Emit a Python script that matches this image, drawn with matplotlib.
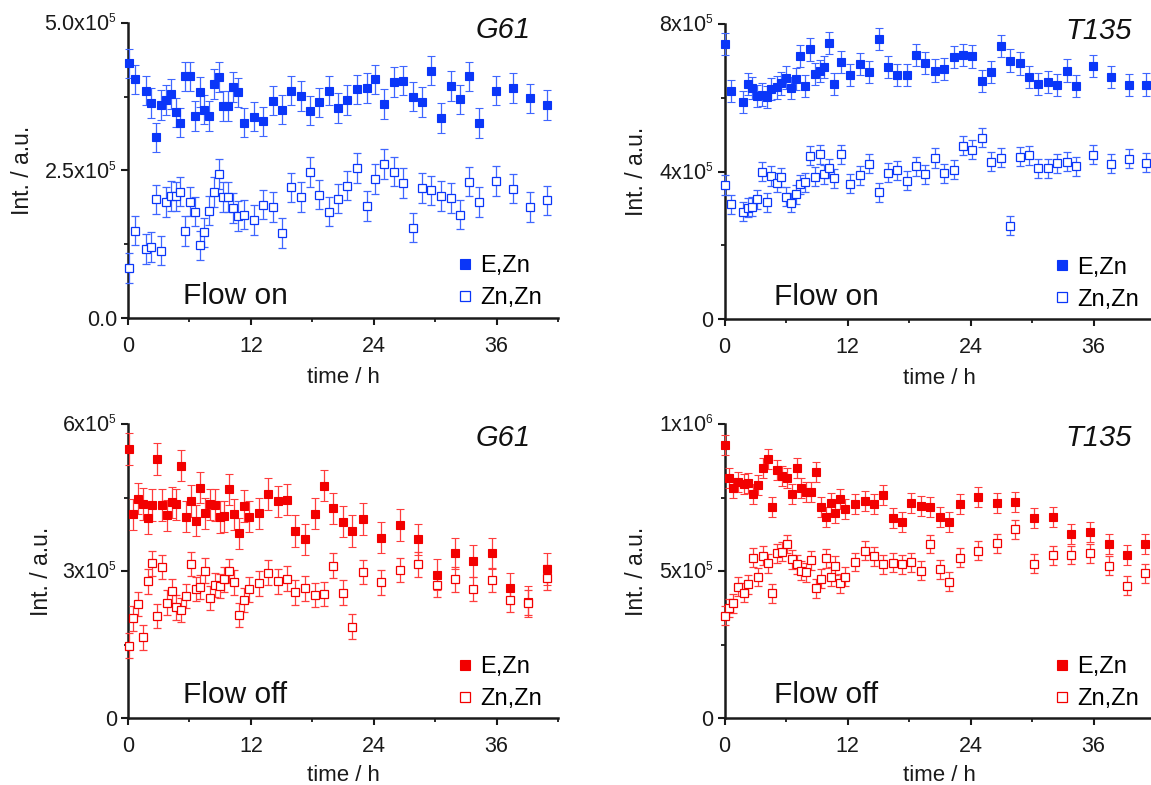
import matplotlib
matplotlib.use("Agg")
import matplotlib.pyplot as plt
from matplotlib.ticker import FixedLocator, MultipleLocator

try:
    import matplotlib._mathtext as _mt
    _mt.SHRINK_FACTOR = 0.55
except Exception:
    pass

plt.rcParams['font.family'] = ['Liberation Sans', 'DejaVu Sans']
plt.rcParams['mathtext.fontset'] = 'custom'
plt.rcParams['mathtext.rm'] = 'Liberation Sans'
plt.rcParams['mathtext.it'] = 'Liberation Sans:italic'

# ---------------- data (intensities in units of 1e5) ----------------
t_tl = [0.07, 0.7, 1.8, 2.25, 2.77, 3.26, 3.7, 4.16, 4.64, 5.1, 5.54, 6.06, 6.55, 7.03, 7.45, 7.9,
        8.38, 8.87, 9.32, 9.8, 10.29, 10.74, 11.36, 12.3, 13.23, 14.13, 15.07, 15.93, 16.9, 17.8,
        18.67, 19.6, 20.54, 21.4, 22.34, 23.3, 24.14, 25.0, 26.0, 26.9, 27.8, 28.75, 29.6, 30.55,
        31.5, 32.4, 33.3, 34.26, 35.9, 37.6, 39.3, 40.9]
ezn_tl = [4.31, 4.04, 3.85, 3.64, 3.06, 3.61, 3.69, 3.79, 3.48, 3.31, 4.09, 4.09, 3.42, 3.83, 3.53,
          3.42, 3.96, 4.08, 3.59, 3.59, 3.91, 3.82, 3.31, 3.41, 3.33, 3.68, 3.53, 3.85, 3.76, 3.51,
          3.65, 3.85, 3.56, 3.69, 3.87, 3.89, 4.04, 3.62, 4.00, 4.02, 3.75, 3.66, 4.19, 3.39, 3.93,
          3.70, 4.09, 3.30, 3.85, 3.89, 3.72, 3.61]
znzn_tl = [0.85, 1.48, 1.17, 1.20, 2.01, 1.14, 1.96, 2.07, 2.06, 2.14, 1.47, 1.97, 1.80, 1.23, 1.45,
           1.82, 2.13, 2.44, 2.05, 2.05, 1.86, 1.73, 1.75, 1.66, 1.92, 1.88, 1.44, 2.21, 2.05, 2.47,
           2.09, 1.80, 2.02, 2.24, 2.54, 1.90, 2.35, 2.61, 2.48, 2.29, 1.53, 2.20, 2.16, 2.07, 2.03,
           1.75, 2.31, 1.96, 2.32, 2.19, 1.88, 1.99]

t_tr = [0, 0.6, 1.78, 2.24, 2.7, 3.16, 3.62, 4.09, 4.55, 5.08, 5.54, 6.0, 6.47, 6.93, 7.39, 7.89,
        8.35, 8.81, 9.27, 9.73, 10.23, 10.69, 11.37, 12.26, 13.18, 14.1, 15.03, 15.95, 16.87, 17.76,
        18.68, 19.6, 20.53, 21.42, 22.34, 23.27, 24.16, 25.12, 26.04, 26.96, 27.89, 28.81, 29.73,
        30.62, 31.55, 32.47, 33.39, 34.28, 35.99, 37.73, 39.43, 41.14]
ezn_tr = [7.45, 6.19, 5.89, 6.37, 6.26, 6.05, 6.09, 6.03, 6.23, 6.28, 6.39, 6.55, 6.26, 6.50, 7.13,
          6.32, 7.31, 6.65, 6.73, 6.84, 7.48, 6.37, 6.98, 6.62, 6.91, 6.69, 7.59, 6.83, 6.61, 6.61,
          7.15, 6.95, 6.74, 6.78, 7.10, 7.15, 7.12, 6.46, 6.71, 7.40, 7.01, 6.93, 6.56, 6.37, 6.44,
          6.35, 6.74, 6.32, 6.87, 6.57, 6.34, 6.36]
znzn_tr = [3.64, 3.12, 2.91, 3.02, 3.05, 3.25, 4.00, 3.17, 3.88, 3.70, 3.85, 3.32, 3.16, 3.39, 3.66,
           3.71, 4.43, 3.86, 4.47, 3.93, 4.09, 3.82, 4.47, 3.67, 3.90, 4.21, 3.44, 3.97, 4.04, 3.75,
           4.15, 3.93, 4.37, 3.96, 4.05, 4.70, 4.59, 4.92, 4.27, 4.38, 2.54, 4.41, 4.44, 4.09, 4.09,
           4.23, 4.27, 4.15, 4.46, 4.21, 4.35, 4.24]

t_bl = [0.07, 0.5, 1.0, 1.45, 1.94, 2.39, 2.87, 3.36, 3.81, 4.26, 4.71, 5.2, 5.68, 6.17, 6.62, 7.07,
        7.55, 8.04, 8.45, 8.94, 9.42, 9.91, 10.36, 10.84, 11.33, 11.85, 12.75, 13.68, 14.62, 15.52,
        16.35, 17.28, 18.22, 19.12, 20.06, 20.96, 21.9, 22.93, 24.7, 26.53, 28.3, 30.14, 31.9,
        33.67, 35.54, 37.34, 39.1, 40.9]
ezn_bl = [5.49, 4.16, 4.48, 4.37, 4.08, 4.35, 5.29, 4.35, 4.14, 4.40, 4.36, 5.15, 4.11, 4.43, 4.03,
          4.70, 4.18, 4.36, 4.35, 4.10, 4.12, 4.67, 4.16, 3.77, 4.33, 4.11, 4.18, 4.57, 4.42, 4.46,
          3.82, 3.65, 4.17, 4.74, 4.28, 4.01, 3.82, 4.06, 3.68, 3.94, 3.65, 2.93, 3.36, 3.21, 3.36,
          2.65, 2.38, 3.04]
znzn_bl = [1.48, 2.04, 2.33, 1.65, 2.79, 3.16, 2.09, 3.08, 2.36, 2.60, 2.26, 2.21, 2.49, 3.15, 2.64,
           2.68, 3.01, 2.45, 2.72, 2.70, 2.83, 3.00, 2.77, 2.11, 2.41, 2.63, 2.75, 2.97, 2.79, 2.85,
           2.57, 2.65, 2.51, 2.53, 3.11, 2.56, 1.87, 2.98, 2.77, 3.02, 3.14, 2.72, 2.83, 2.64, 2.82,
           2.41, 2.36, 2.87]

t_br = [0, 0.39, 0.85, 1.35, 1.85, 2.31, 2.81, 3.27, 3.73, 4.19, 4.65, 5.12, 5.58, 6.07, 6.54, 7.03,
        7.5, 7.96, 8.42, 8.92, 9.38, 9.88, 10.34, 10.8, 11.26, 11.79, 12.72, 13.68, 14.57, 15.45,
        16.41, 17.3, 18.22, 19.15, 20.07, 20.99, 21.92, 22.95, 24.76, 26.61, 28.38, 30.2, 32.0,
        33.85, 35.63, 37.48, 39.22, 41.07]
ezn_br = [9.29, 8.18, 7.81, 8.04, 7.95, 7.98, 7.63, 7.93, 8.52, 8.81, 7.19, 8.43, 8.23, 8.15, 7.61,
          8.49, 7.84, 7.68, 7.68, 8.38, 7.19, 6.85, 7.30, 6.96, 7.45, 7.10, 7.28, 7.40, 7.27, 7.59,
          6.80, 6.68, 7.33, 7.23, 7.17, 6.83, 6.66, 7.28, 7.51, 7.30, 7.34, 6.82, 6.84, 6.25, 6.32,
          5.91, 5.55, 5.93]
znzn_br = [3.49, 3.75, 3.91, 4.47, 4.27, 4.55, 5.46, 4.80, 5.53, 5.27, 4.25, 5.61, 5.66, 5.92, 5.41,
           5.23, 5.02, 4.96, 5.37, 4.42, 4.75, 5.44, 4.81, 5.19, 4.59, 4.81, 5.31, 5.70, 5.50, 5.23,
           5.29, 5.23, 5.30, 5.02, 5.92, 5.06, 4.64, 5.46, 5.69, 5.95, 6.42, 5.25, 5.54, 5.55, 5.61,
           5.19, 4.51, 4.93]

# error bar half-widths (units 1e5)
err_ezn = [0.25, 0.30, 0.32, 0.34]
err_znzn = [0.25, 0.26, 0.25, 0.32]

titles = ['G61', 'T135', 'G61', 'T135']
conditions = ['Flow on', 'Flow on', 'Flow off', 'Flow off']
series_labels = ['E,Zn', 'Zn,Zn']
xticks = [0, 12, 24, 36]
yticks = [[0, 2.5, 5.0], [0, 4, 8], [0, 3, 6], [0, 5, 10]]
yticklabels = [['0.0', '2.5x10$^5$', '5.0x10$^5$'],
               ['0', '4x10$^5$', '8x10$^5$'],
               ['0', '3x10$^5$', '6x10$^5$'],
               ['0', '5x10$^5$', '1x10$^6$']]

# ---------------- styling / layout ----------------
W, H = 1151, 785
fig = plt.figure(figsize=(W / 100, H / 100), dpi=100)

# axes rectangles in pixels: left, top, right, bottom
rects_px = [(128, 22.7, 558, 318), (724.6, 24, 1155, 319.3),
            (128, 424, 558, 718.3), (724.6, 424, 1155, 718.3)]
blue, blue_err = '#0a36f8', '#3f66ff'
red, red_err = '#f20000', '#ff3c3c'
colors = [(blue, blue_err), (blue, blue_err), (red, red_err), (red, red_err)]
ylabel_x = [-0.218, -0.178, -0.175, -0.178]
xlabel_y = [-0.165, -0.165, -0.158, -0.158]
title_pos = [(0.936, 0.949), (0.947, 0.949), (0.936, 0.925), (0.947, 0.925)]
cond_pos = [(0.127, 0.047), (0.114, 0.047), (0.127, 0.051), (0.114, 0.051)]

data = [(t_tl, ezn_tl, znzn_tl), (t_tr, ezn_tr, znzn_tr),
        (t_bl, ezn_bl, znzn_bl), (t_br, ezn_br, znzn_br)]

for i in range(4):
    l, t, r, b = rects_px[i]
    ax = fig.add_axes([l / W, 1 - b / H, (r - l) / W, (b - t) / H])
    tt, e1, e2 = data[i]
    c, ce = colors[i]
    h1 = ax.errorbar(tt, e1, yerr=err_ezn[i], fmt='s', ms=5.4, mfc=c, mec=c, mew=0.8,
                     ecolor=ce, elinewidth=0.9, capsize=2.8, capthick=0.9, clip_on=False, zorder=3)
    h2 = ax.errorbar(tt, e2, yerr=err_znzn[i], fmt='s', ms=5.4, mfc='white', mec=c, mew=0.9,
                     ecolor=ce, elinewidth=0.9, capsize=2.8, capthick=0.9, clip_on=False, zorder=3)
    for cont in (h1, h2):
        for art in list(cont[1]) + list(cont[2]):
            art.set_clip_on(False)

    ax.set_xlim(0, 42)
    ax.set_ylim(yticks[i][0], yticks[i][-1])
    for s in ('top', 'right'):
        ax.spines[s].set_visible(False)
    for s in ('left', 'bottom'):
        ax.spines[s].set_linewidth(1.8)
        ax.spines[s].set_color('#1a1a1a')
    ax.xaxis.set_major_locator(FixedLocator(xticks))
    ax.xaxis.set_minor_locator(MultipleLocator(6))
    ax.set_yticks(yticks[i])
    ax.set_yticklabels(yticklabels[i])
    ax.yaxis.set_minor_locator(MultipleLocator(yticks[i][1] / 2))
    ax.tick_params(which='major', direction='out', length=5, width=1.5, color='#1a1a1a',
                   labelsize=15.5, labelcolor='#1a1a1a')
    ax.tick_params(axis='x', which='major', pad=8)
    ax.tick_params(axis='y', which='major', pad=3)
    ax.tick_params(which='minor', direction='out', length=3, width=1.3, color='#1a1a1a')

    ax.set_xlabel('time / h', fontsize=16, color='#1a1a1a')
    ax.xaxis.set_label_coords(0.5, xlabel_y[i])
    ax.set_ylabel('Int. / a.u.', fontsize=16.5, color='#1a1a1a')
    ax.yaxis.set_label_coords(ylabel_x[i], 0.5)

    ax.text(title_pos[i][0], title_pos[i][1], titles[i], transform=ax.transAxes, ha='right',
            va='baseline', fontsize=21, style='italic', color='#111111')
    ax.text(cond_pos[i][0], cond_pos[i][1], conditions[i], transform=ax.transAxes, ha='left',
            va='baseline', fontsize=21.5, color='#111111')

    ax.legend(handles=[h1.lines[0], h2.lines[0]], labels=series_labels, loc='upper left',
              bbox_to_anchor=(0.765, 0.212), frameon=False, fontsize=17, markerscale=1.4,
              handlelength=0.7, handletextpad=0.3, labelspacing=0.42, borderpad=0,
              borderaxespad=0)

fig.savefig('out.png', dpi=100)
